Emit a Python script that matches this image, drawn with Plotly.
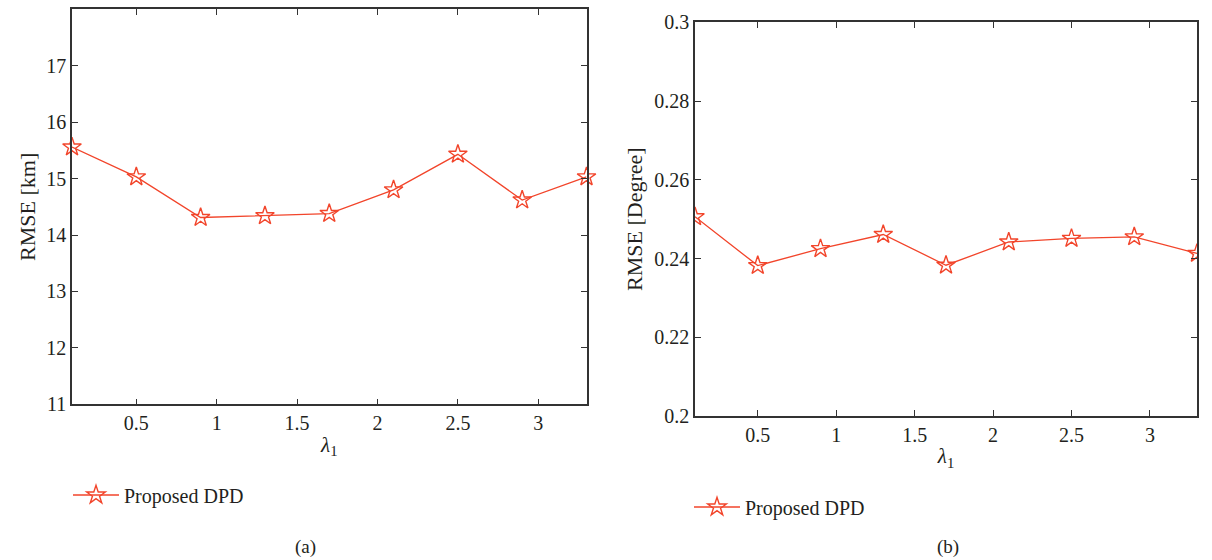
import plotly.graph_objects as go

lam = [0.1, 0.5, 0.9, 1.3, 1.7, 2.1, 2.5, 2.9, 3.3]
rmse_km = [15.56, 15.03, 14.31, 14.34, 14.38, 14.80, 15.43, 14.62, 15.03]
rmse_deg = [0.2506, 0.2382, 0.2425, 0.2461, 0.2383, 0.2442, 0.2451, 0.2455, 0.2413]
xticks = [0.5, 1, 1.5, 2, 2.5, 3]
yticks_a = [11, 12, 13, 14, 15, 16, 17]
yticks_b = [0.2, 0.22, 0.24, 0.26, 0.28, 0.3]
series_name = "Proposed DPD"

RED = "#f2452b"
TXT = "#231f20"
FONT = "Liberation Serif, Times New Roman, serif"
W, H = 1212, 560

fig = go.Figure()
marker = dict(symbol="star-open", size=14, color=RED, line=dict(width=1.4, color=RED))
fig.add_trace(go.Scatter(x=lam, y=rmse_km, mode="lines+markers", name=series_name,
                         line=dict(color=RED, width=1.3), marker=marker,
                         xaxis="x", yaxis="y", legend="legend", cliponaxis=False))
fig.add_trace(go.Scatter(x=lam, y=rmse_deg, mode="lines+markers", name=series_name,
                         line=dict(color=RED, width=1.3), marker=marker,
                         xaxis="x2", yaxis="y2", legend="legend2", cliponaxis=True))

axis_common = dict(showline=True, linecolor="#333333", linewidth=1.5, mirror="ticks",
                   ticks="inside", ticklen=6, tickwidth=1.2, tickcolor="#333333",
                   showgrid=False, zeroline=False, automargin=False,
                   tickfont=dict(family=FONT, size=20, color=TXT))

fig.update_layout(
    template="none",
    width=W, height=H,
    margin=dict(l=0, r=0, t=0, b=0, autoexpand=False),
    paper_bgcolor="white", plot_bgcolor="white",
    font=dict(family=FONT, color=TXT),
    xaxis=dict(domain=[72 / W, 586.5 / W], range=[0.1, 3.3], tickvals=xticks,
               anchor="y", title=dict(text="<i>λ</i><sub>1</sub>", font=dict(size=21, family=FONT, color=TXT), standoff=4),
               **axis_common),
    yaxis=dict(domain=[1 - 404.3 / H, 1 - 9.3 / H], range=[11, 18], tickvals=yticks_a,
               anchor="x", title=dict(text="RMSE [km]", font=dict(size=22, family=FONT, color=TXT), standoff=5),
               **axis_common),
    xaxis2=dict(domain=[695 / W, 1197 / W], range=[0.1, 3.3], tickvals=xticks,
                anchor="y2", title=dict(text="<i>λ</i><sub>1</sub>", font=dict(size=21, family=FONT, color=TXT), standoff=4),
                **axis_common),
    yaxis2=dict(domain=[1 - 416 / H, 1 - 22.3 / H], range=[0.2, 0.3], tickvals=yticks_b,
                anchor="x2", title=dict(text="RMSE [Degree]", font=dict(size=22, family=FONT, color=TXT), standoff=6),
                **axis_common),
    legend=dict(x=68 / W, y=1 - 495 / H, xanchor="left", yanchor="middle",
                font=dict(family=FONT, size=20, color=TXT), bgcolor="rgba(0,0,0,0)",
                itemwidth=46),
    legend2=dict(x=689 / W, y=1 - 507 / H, xanchor="left", yanchor="middle",
                 font=dict(family=FONT, size=20, color=TXT), bgcolor="rgba(0,0,0,0)",
                 itemwidth=46),
    showlegend=True,
    annotations=[
        dict(text="(a)", x=305 / W, y=1 - 547 / H, xref="paper", yref="paper",
             xanchor="center", yanchor="middle",
             showarrow=False, font=dict(family=FONT, size=19, color=TXT)),
        dict(text="(b)", x=948 / W, y=1 - 547 / H, xref="paper", yref="paper",
             xanchor="center", yanchor="middle",
             showarrow=False, font=dict(family=FONT, size=19, color=TXT)),
    ],
)

fig.write_html("out.html", config={"displayModeBar": False},
               post_script="document.body.style.margin='0';document.body.style.overflow='hidden';")
